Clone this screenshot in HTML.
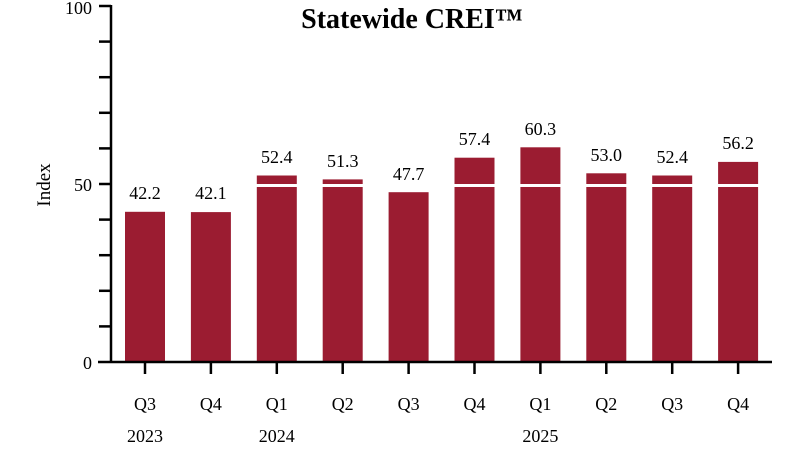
<!DOCTYPE html>
<html><head><meta charset="utf-8"><style>
html,body{margin:0;padding:0;background:#fff;}
svg{display:block;font-family:"Liberation Serif",serif;}
</style></head><body>
<svg width="800" height="450" viewBox="0 0 800 450">
<text x="412" y="28" text-anchor="middle" font-size="28" font-weight="bold" fill="#000">Statewide CREI™</text>
<text transform="translate(50,185) rotate(-90)" text-anchor="middle" font-size="19" fill="#000">Index</text>
<g fill="#9b1c31">
<rect x="125" y="211.8" width="40" height="150.2"/>
<rect x="190.9" y="212.1" width="40" height="149.9"/>
<rect x="256.8" y="175.5" width="40" height="186.5"/>
<rect x="322.7" y="179.4" width="40" height="182.6"/>
<rect x="388.6" y="192.2" width="40" height="169.8"/>
<rect x="454.5" y="157.7" width="40" height="204.3"/>
<rect x="520.4" y="147.3" width="40" height="214.7"/>
<rect x="586.3" y="173.3" width="40" height="188.7"/>
<rect x="652.2" y="175.5" width="40" height="186.5"/>
<rect x="718.1" y="161.9" width="40" height="200.1"/>
</g>
<line x1="120" y1="185.5" x2="765" y2="185.5" stroke="#fff" stroke-width="3"/>
<g stroke="#000" stroke-width="2.5">
<line x1="111" y1="5" x2="111" y2="363"/>
<line x1="98" y1="362" x2="772" y2="362"/>
<line x1="99" y1="6" x2="111" y2="6"/>
<line x1="99" y1="41.6" x2="111" y2="41.6"/>
<line x1="99" y1="77.2" x2="111" y2="77.2"/>
<line x1="99" y1="112.8" x2="111" y2="112.8"/>
<line x1="99" y1="148.4" x2="111" y2="148.4"/>
<line x1="99" y1="184" x2="111" y2="184"/>
<line x1="99" y1="219.6" x2="111" y2="219.6"/>
<line x1="99" y1="255.2" x2="111" y2="255.2"/>
<line x1="99" y1="290.8" x2="111" y2="290.8"/>
<line x1="99" y1="326.4" x2="111" y2="326.4"/>
<line x1="145" y1="362" x2="145" y2="374"/>
<line x1="210.9" y1="362" x2="210.9" y2="374"/>
<line x1="276.8" y1="362" x2="276.8" y2="374"/>
<line x1="342.7" y1="362" x2="342.7" y2="374"/>
<line x1="408.6" y1="362" x2="408.6" y2="374"/>
<line x1="474.5" y1="362" x2="474.5" y2="374"/>
<line x1="540.4" y1="362" x2="540.4" y2="374"/>
<line x1="606.3" y1="362" x2="606.3" y2="374"/>
<line x1="672.2" y1="362" x2="672.2" y2="374"/>
<line x1="738.1" y1="362" x2="738.1" y2="374"/>
</g>
<g font-size="18" fill="#000" text-anchor="end">
<text x="92" y="14">100</text>
<text x="92" y="191">50</text>
<text x="92" y="369">0</text>
</g>
<g font-size="18" fill="#000" text-anchor="middle">
<text x="145" y="199">42.2</text>
<text x="210.9" y="199">42.1</text>
<text x="276.8" y="163">52.4</text>
<text x="342.7" y="167">51.3</text>
<text x="408.6" y="180">47.7</text>
<text x="474.5" y="145">57.4</text>
<text x="540.4" y="135">60.3</text>
<text x="606.3" y="161">53.0</text>
<text x="672.2" y="163">52.4</text>
<text x="738.1" y="149">56.2</text>
</g>
<g font-size="18" fill="#000" text-anchor="middle">
<text x="145" y="410">Q3</text>
<text x="210.9" y="410">Q4</text>
<text x="276.8" y="410">Q1</text>
<text x="342.7" y="410">Q2</text>
<text x="408.6" y="410">Q3</text>
<text x="474.5" y="410">Q4</text>
<text x="540.4" y="410">Q1</text>
<text x="606.3" y="410">Q2</text>
<text x="672.2" y="410">Q3</text>
<text x="738.1" y="410">Q4</text>
<text x="145" y="442">2023</text>
<text x="276.8" y="442">2024</text>
<text x="540.4" y="442">2025</text>
</g>
</svg>
</body></html>
